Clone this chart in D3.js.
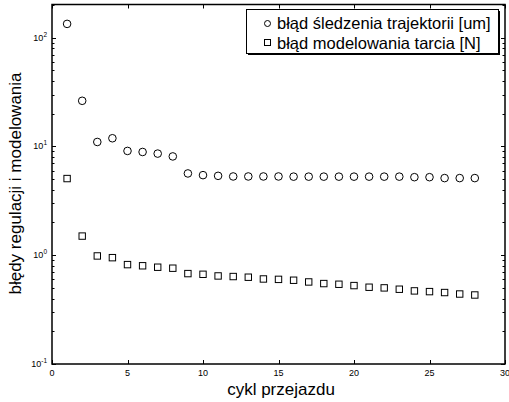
<!DOCTYPE html>
<html>
<head>
<meta charset="utf-8">
<script src="https://cdn.jsdelivr.net/npm/d3@7"></script>
<style>
  html, body { margin: 0; padding: 0; background: #fff; }
  svg { display: block; font-family: "Liberation Sans", Arial, sans-serif; }
</style>
</head>
<body>
<svg id="chart" width="509" height="402"></svg>
<script>
// Pass number (cykl przejazdu)
const cycles = d3.range(1, 29);
// Trajectory tracking error [um]
const trackingError = [134, 26.3, 11.0, 11.9, 9.1, 8.9, 8.6, 8.1, 5.65, 5.45, 5.37, 5.3,
  5.3, 5.3, 5.3, 5.28, 5.28, 5.28, 5.28, 5.28, 5.28, 5.28, 5.28, 5.22, 5.22, 5.12, 5.12, 5.12];
// Friction modelling error [N]
const frictionError = [5.07, 1.5, 0.985, 0.95, 0.82, 0.80, 0.776, 0.76, 0.678, 0.668, 0.645, 0.637,
  0.628, 0.605, 0.60, 0.589, 0.568, 0.549, 0.541, 0.526, 0.508, 0.501, 0.487, 0.47, 0.463, 0.454, 0.44, 0.431];
const xTicks = [0, 5, 10, 15, 20, 25, 30];
const yDecades = [-1, 0, 1, 2];
const legendLabels = ["błąd śledzenia trajektorii [um]", "błąd modelowania tarcia [N]"];
const xTitle = "cykl przejazdu";
const yTitle = "błędy regulacji i modelowania";

const svg = d3.select("#chart");
const plotL = 52, plotR = 505, plotT = 4.5, plotB = 364;

const x = d3.scaleLinear().domain([0, 30]).range([plotL, plotR]);
const y = d3.scaleLog().domain([0.1, 202]).range([plotB, plotT]);

// minor log ticks
const minor = [];
for (let e = -1; e <= 2; e++) for (let m = 2; m <= 9; m++) {
  const v = m * Math.pow(10, e);
  if (v <= 202) minor.push(v);
}

const g = svg.append("g");

// tick marks, pointing inward on all four sides
const tickG = g.append("g").attr("stroke", "#000").attr("stroke-width", 1);
xTicks.forEach(t => {
  const px = Math.round(x(t)) + 0.5;
  tickG.append("line").attr("x1", px).attr("x2", px).attr("y1", plotB).attr("y2", plotB - 4);
  tickG.append("line").attr("x1", px).attr("x2", px).attr("y1", plotT).attr("y2", plotT + 4);
});
yDecades.forEach(e => {
  const py = Math.round(y(Math.pow(10, e))) + 0.5;
  tickG.append("line").attr("x1", plotL).attr("x2", plotL + 4).attr("y1", py).attr("y2", py);
  tickG.append("line").attr("x1", plotR).attr("x2", plotR - 4).attr("y1", py).attr("y2", py);
});
minor.forEach(v => {
  const py = Math.round(y(v)) + 0.5;
  tickG.append("line").attr("x1", plotL).attr("x2", plotL + 2.5).attr("y1", py).attr("y2", py);
  tickG.append("line").attr("x1", plotR).attr("x2", plotR - 2.5).attr("y1", py).attr("y2", py);
});

// plot frame
g.append("rect")
  .attr("x", plotL).attr("y", plotT)
  .attr("width", plotR - plotL).attr("height", plotB - plotT)
  .attr("fill", "none").attr("stroke", "#000").attr("stroke-width", 1.5);

// x tick labels
g.append("g").selectAll("text").data(xTicks).join("text")
  .attr("x", d => x(d)).attr("y", plotB + 12)
  .attr("text-anchor", "middle").attr("font-size", 9)
  .text(d => d);

// y tick labels as 10 with superscript exponent
yDecades.forEach(e => {
  const t = g.append("text")
    .attr("x", plotL - 5).attr("y", y(Math.pow(10, e)) + 3)
    .attr("text-anchor", "end").attr("font-size", 9);
  t.append("tspan").text("10");
  t.append("tspan").attr("dy", -4).attr("font-size", 6.5).text(e);
});

// series: tracking error as open circles
g.append("g").selectAll("circle").data(cycles).join("circle")
  .attr("cx", (d, i) => x(d)).attr("cy", (d, i) => y(trackingError[i]))
  .attr("r", 3.8).attr("fill", "none").attr("stroke", "#000").attr("stroke-width", 1);

// series: friction error as open squares
const s = 6.4;
g.append("g").selectAll("rect").data(cycles).join("rect")
  .attr("x", (d, i) => x(d) - s / 2).attr("y", (d, i) => y(frictionError[i]) - s / 2)
  .attr("width", s).attr("height", s)
  .attr("fill", "none").attr("stroke", "#000").attr("stroke-width", 1);

// legend with drop shadow edge
const lg = g.append("g");
const lx = 246.5, ly = 9.5, lw = 252, lh = 44;
lg.append("rect").attr("x", lx + 1.5).attr("y", ly + 1.5).attr("width", lw).attr("height", lh)
  .attr("fill", "#000");
lg.append("rect").attr("x", lx).attr("y", ly).attr("width", lw).attr("height", lh)
  .attr("fill", "#fff").attr("stroke", "#000").attr("stroke-width", 1);
lg.append("circle").attr("cx", 267.5).attr("cy", 23.5).attr("r", 3)
  .attr("fill", "none").attr("stroke", "#000");
lg.append("rect").attr("x", 264.5).attr("y", 39.5).attr("width", 6).attr("height", 6)
  .attr("fill", "none").attr("stroke", "#000");
legendLabels.forEach((t, i) => {
  lg.append("text").attr("x", 277).attr("y", 29 + i * 19.5)
    .attr("font-size", 16.5).text(t);
});

// axis titles
g.append("text").attr("x", 281).attr("y", 395)
  .attr("text-anchor", "middle").attr("font-size", 17).text(xTitle);
g.append("text")
  .attr("transform", `translate(20.5, 183.5) rotate(-90)`)
  .attr("text-anchor", "middle").attr("font-size", 17).text(yTitle);
</script>
</body>
</html>
